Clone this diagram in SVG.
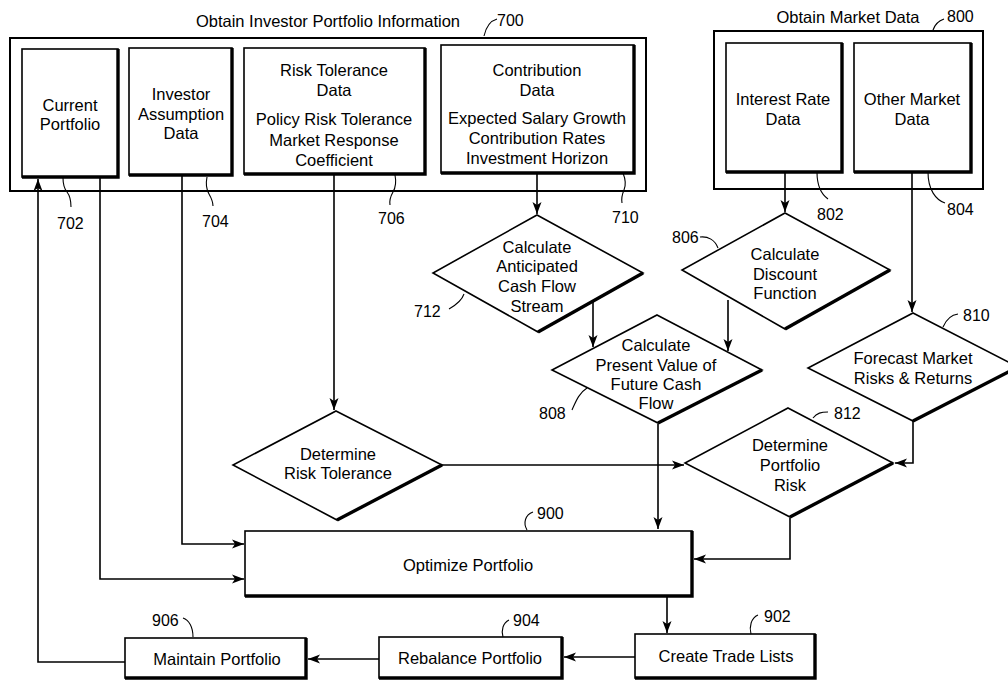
<svg xmlns="http://www.w3.org/2000/svg" width="1008" height="680" viewBox="0 0 1008 680">
<style>
.box{fill:#fff;stroke:#000;stroke-width:1.6}
.frame{fill:none;stroke:#000;stroke-width:2}
.sh{fill:none;stroke:#000;stroke-width:3.4;stroke-linejoin:miter}
.t{font-family:"Liberation Sans",Arial,Helvetica,sans-serif;font-size:16.5px;fill:#000;text-anchor:middle}
.n{font-family:"Liberation Sans",Arial,Helvetica,sans-serif;font-size:16px;fill:#000}
.c{fill:none;stroke:#000;stroke-width:1.6}
.ld{fill:none;stroke:#000;stroke-width:1.1}
</style>
<defs>
<marker id="ah" markerUnits="userSpaceOnUse" markerWidth="14" markerHeight="10" refX="12" refY="5" orient="auto">
<path d="M0,0.5 L12,5 L0,9.5 L3,5 Z" fill="#000"/>
</marker>
</defs>
<rect width="1008" height="680" fill="#fff"/>

<g id="group700">
<rect class="frame" x="10" y="38" width="636" height="153"/>
<text class="t" x="328" y="27">Obtain Investor Portfolio Information</text>
<text class="n" x="497" y="26">700</text>
<path class="ld" d="M484,36 C486,27 490,21 497,19"/>
</g>
<g id="group800">
<rect class="frame" x="714" y="31" width="269" height="158"/>
<text class="t" x="848" y="23">Obtain Market Data</text>
<text class="n" x="947" y="22">800</text>
<path class="ld" d="M933,30 C935,24 938,21 944,19"/>
</g>

<g id="connectors">
<path class="c" d="M125,662 H38 V179" marker-end="url(#ah)"/>
<path class="c" d="M100,178 V579 H244" marker-end="url(#ah)"/>
<path class="c" d="M182,176 V544 H244" marker-end="url(#ah)"/>
<path class="c" d="M334,175 V410" marker-end="url(#ah)"/>
<path class="c" d="M537,174 V214" marker-end="url(#ah)"/>
<path class="c" d="M593,301 V347" marker-end="url(#ah)"/>
<path class="c" d="M785,173 V212" marker-end="url(#ah)"/>
<path class="c" d="M728,300 V351" marker-end="url(#ah)"/>
<path class="c" d="M912,173 V312" marker-end="url(#ah)"/>
<path class="c" d="M913,421 V463 H895" marker-end="url(#ah)"/>
<path class="c" d="M442,465 H684" marker-end="url(#ah)"/>
<path class="c" d="M658,424 V529" marker-end="url(#ah)"/>
<path class="c" d="M790,518 V559 H694" marker-end="url(#ah)"/>
<path class="c" d="M667,597 V633" marker-end="url(#ah)"/>
<path class="c" d="M635,657 H564" marker-end="url(#ah)"/>
<path class="c" d="M379,659 H308" marker-end="url(#ah)"/>
</g>

<g id="n702">
<rect class="box" x="22" y="49" width="96" height="128"/>
<path class="sh" d="M22,177 H118 V49"/>
<text class="t" x="70" y="111">Current</text>
<text class="t" x="70" y="130">Portfolio</text>
<path class="ld" d="M63,178 Q63,187 67,192 T71,207"/>
<text class="n" x="57" y="229">702</text>
</g>
<g id="n704">
<rect class="box" x="129" y="48" width="103" height="127"/>
<path class="sh" d="M129,175 H232 V48"/>
<text class="t" x="181" y="100">Investor</text>
<text class="t" x="181" y="120">Assumption</text>
<text class="t" x="181" y="139">Data</text>
<path class="ld" d="M207,177 Q205,187 209,194 T213,206"/>
<text class="n" x="202" y="227">704</text>
</g>
<g id="n706">
<rect class="box" x="244" y="48" width="181" height="126"/>
<path class="sh" d="M244,174 H425 V48"/>
<text class="t" x="334" y="76">Risk Tolerance</text>
<text class="t" x="334" y="96">Data</text>
<text class="t" x="334" y="125">Policy Risk Tolerance</text>
<text class="t" x="334" y="146">Market Response</text>
<text class="t" x="334" y="166">Coefficient</text>
<path class="ld" d="M395,175 Q397,185 393,192 T390,205"/>
<text class="n" x="378" y="224">706</text>
</g>
<g id="n710">
<rect class="box" x="441" y="45" width="193" height="128"/>
<path class="sh" d="M441,173 H634 V45"/>
<text class="t" x="537" y="76">Contribution</text>
<text class="t" x="537" y="96">Data</text>
<text class="t" x="537" y="124">Expected Salary Growth</text>
<text class="t" x="537" y="144">Contribution Rates</text>
<text class="t" x="537" y="164">Investment Horizon</text>
<path class="ld" d="M623,173 Q627,183 624,190 T622,203"/>
<text class="n" x="612" y="223">710</text>
</g>
<g id="n802">
<rect class="box" x="726" y="43" width="116" height="129"/>
<path class="sh" d="M726,172 H842 V43"/>
<text class="t" x="783" y="105">Interest Rate</text>
<text class="t" x="783" y="125">Data</text>
<path class="ld" d="M817,172 C817,186 821,194 828,199"/>
<text class="n" x="817" y="220">802</text>
</g>
<g id="n804">
<rect class="box" x="854" y="43" width="117" height="129"/>
<path class="sh" d="M854,172 H971 V43"/>
<text class="t" x="912" y="105">Other Market</text>
<text class="t" x="912" y="125">Data</text>
<path class="ld" d="M928,172 C928,190 936,200 945,203"/>
<text class="n" x="947" y="215">804</text>
</g>

<g id="n712">
<polygon class="box" points="537,215 643,273 538,332 433,273"/>
<path class="sh" d="M643,273 L538,332"/>
<text class="t" x="537" y="253">Calculate</text>
<text class="t" x="537" y="272">Anticipated</text>
<text class="t" x="537" y="292">Cash Flow</text>
<text class="t" x="537" y="312">Stream</text>
<path class="ld" d="M449,309 C456,305 462,300 464,294"/>
<text class="n" x="414" y="317">712</text>
</g>
<g id="n806">
<polygon class="box" points="785,213 890,270 785,329 682,270"/>
<path class="sh" d="M890,270 L785,329"/>
<text class="t" x="785" y="260">Calculate</text>
<text class="t" x="785" y="280">Discount</text>
<text class="t" x="785" y="299">Function</text>
<path class="ld" d="M700,237 C708,236 715,240 718,248"/>
<text class="n" x="672" y="243">806</text>
</g>
<g id="n808">
<polygon class="box" points="657,315 762,370 658,423 552,370"/>
<path class="sh" d="M762,370 L658,423"/>
<text class="t" x="656" y="351">Calculate</text>
<text class="t" x="656" y="371">Present Value of</text>
<text class="t" x="656" y="390">Future Cash</text>
<text class="t" x="656" y="409">Flow</text>
<path class="ld" d="M572,410 C576,401 579,393 587,388"/>
<text class="n" x="539" y="419">808</text>
</g>
<g id="n810">
<polygon class="box" points="913,313 1018,367 913,421 808,368"/>
<path class="sh" d="M1018,367 L913,421"/>
<text class="t" x="913" y="364">Forecast Market</text>
<text class="t" x="913" y="384">Risks &amp; Returns</text>
<path class="ld" d="M943,327 C946,320 950,315 958,314"/>
<text class="n" x="963" y="321">810</text>
</g>
<g id="n812">
<polygon class="box" points="788,408 893,463 790,517 685,463"/>
<path class="sh" d="M893,463 L790,517"/>
<text class="t" x="790" y="451">Determine</text>
<text class="t" x="790" y="471">Portfolio</text>
<text class="t" x="790" y="491">Risk</text>
<path class="ld" d="M813,418 C817,413 821,412 828,412"/>
<text class="n" x="834" y="419">812</text>
</g>
<g id="nDRT">
<polygon class="box" points="336,411 442,465 337,520 233,465"/>
<path class="sh" d="M442,465 L337,520"/>
<text class="t" x="338" y="460">Determine</text>
<text class="t" x="338" y="479">Risk Tolerance</text>
</g>

<g id="n900">
<rect class="box" x="245" y="531" width="447" height="65"/>
<path class="sh" d="M245,596 H692 V531"/>
<text class="t" x="468" y="571">Optimize Portfolio</text>
<path class="ld" d="M527,530 C523,523 525,515 533,512"/>
<text class="n" x="537" y="519">900</text>
</g>
<g id="n902">
<rect class="box" x="635" y="634" width="180" height="44"/>
<path class="sh" d="M635,678 H815 V634"/>
<text class="t" x="726" y="662">Create Trade Lists</text>
<path class="ld" d="M751,634 C749,627 751,618 758,615"/>
<text class="n" x="764" y="622">902</text>
</g>
<g id="n904">
<rect class="box" x="379" y="637" width="183" height="41"/>
<path class="sh" d="M379,678 H562 V637"/>
<text class="t" x="470" y="664">Rebalance Portfolio</text>
<path class="ld" d="M503,637 C501,630 503,623 509,620"/>
<text class="n" x="513" y="626">904</text>
</g>
<g id="n906">
<rect class="box" x="125" y="638" width="181" height="40"/>
<path class="sh" d="M125,678 H306 V638"/>
<text class="t" x="217" y="665">Maintain Portfolio</text>
<path class="ld" d="M183,618 C189,620 193,627 193,637"/>
<text class="n" x="152" y="626">906</text>
</g>
</svg>
